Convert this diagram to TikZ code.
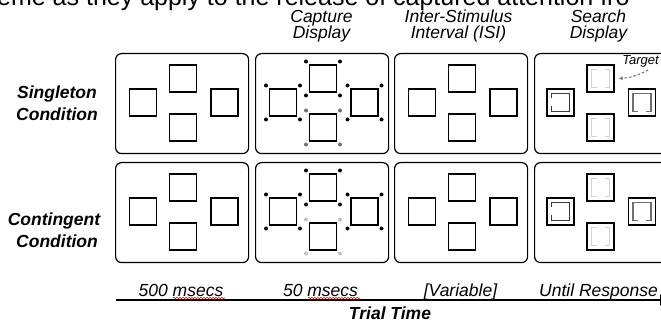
\documentclass[tikz,border=0pt]{standalone}
\usepackage{fontspec}
\setmainfont{Liberation Sans}
\usetikzlibrary{arrows.meta,decorations.pathmorphing}
\definecolor{dotgray}{HTML}{707070}
\definecolor{dotlight}{HTML}{C0C0C0}
\definecolor{indark}{HTML}{3A3A3A}
\definecolor{inmid}{HTML}{6E6E6E}
\definecolor{inlight}{HTML}{D2D2D2}
\tikzset{
  panel/.style={draw, rounded corners=6pt, line width=1.2pt, minimum width=133pt, minimum height=100pt, inner sep=0pt, anchor=north west},
  sq/.style={draw, line width=1.2pt, minimum size=27pt, inner sep=0pt},
  hdr/.style={anchor=base, font=\itshape\fontsize{17.5}{17.5}\selectfont, inner sep=0pt},
  cond/.style={anchor=base, font=\bfseries\itshape\fontsize{17.5}{17.5}\selectfont, inner sep=0pt},
  tlab/.style={anchor=base, font=\itshape\fontsize{17.5}{17.5}\selectfont, inner sep=0pt},
  capdot/.style={circle, fill, inner sep=0pt, minimum size=4pt},
  inner/.style={line width=1.3pt},
  squig/.style={red, line width=0.6pt, decorate, decoration={snake, amplitude=0.7pt, segment length=3pt}}
}
\begin{document}
\begin{tikzpicture}[x=1pt,y=-1pt]
\useasboundingbox (0,0) rectangle (661,320);
\clip (0,0) rectangle (661,320);

% clipped running text at top
\node[anchor=base west, inner sep=0pt, font=\fontsize{25}{25}\selectfont] (toptext) at (-3,6) {eme as they apply to the release of captured attention fro};

% column headers
\node[hdr] (h2a) at (321.5,23) {Capture};
\node[hdr] (h2b) at (321.5,39) {Display};
\node[hdr] (h3a) at (458.5,23) {Inter-Stimulus};
\node[hdr] (h3b) at (458.5,39) {Interval (ISI)};
\node[hdr] (h4a) at (598.5,23) {Search};
\node[hdr] (h4b) at (598.5,39) {Display};

% row labels
\node[cond] (c1a) at (57,99) {Singleton};
\node[cond] (c1b) at (57,121) {Condition};
\node[cond] (c2a) at (54,226) {Contingent};
\node[cond] (c2b) at (57,248) {Condition};

% panels and squares
\foreach \r/\ry in {1/53,2/162} {
  \foreach \c/\cx/\dx in {1/115/0,2/255/0,3/394/0,4/534/-1.5} {
    \node[panel] (p\r\c) at (\cx,\ry) {};
    \node[sq] (s\r\c l) at (\cx+\dx+28,\ry+49.5) {};
    \node[sq] (s\r\c t) at (\cx+\dx+68,\ry+25.5) {};
    \node[sq] (s\r\c b) at (\cx+\dx+68,\ry+74.5) {};
    \node[sq] (s\r\c r) at (\cx+\dx+109.5,\ry+49.5) {};
  }
}

% capture display dots
\foreach \r/\bc in {1/dotgray,2/dotlight} {
  \foreach \s/\col in {l/black,t/black,r/black,b/\bc} {
    \foreach \dx/\dy in {-17/-17,17/-17,-17/17,17/17} {
      \node[capdot, fill=\col] at ([shift={(\dx,\dy)}]s\r2\s.center) {};
    }
  }
}

% search display inner shapes
\foreach \r in {1,2} {
  \draw[inner, indark] ([shift={(-9,-4)}]s\r4l.center) -- ++(0,-5) -- ++(18,0) -- ++(0,18) -- ++(-18,0) -- ++(0,-5);
  \draw[inner, inmid] ([shift={(-4,9)}]s\r4r.center) -- ++(-5,0) -- ++(0,-18) -- ++(18,0) -- ++(0,18) -- ++(-5,0);
  \foreach \s in {t,b} {
    \draw[inner, inlight] ([shift={(-4,-9)}]s\r4\s.center) -- ++(-5,0) -- ++(0,18) -- ++(5,0);
    \draw[inner, inlight] ([shift={(4,-9)}]s\r4\s.center) -- ++(5,0) -- ++(0,18) -- ++(-5,0);
  }
}

% target label and arrow
\node[font=\itshape\fontsize{13}{13}\selectfont, inner sep=0pt, anchor=base east] (target) at (659,65) {Target};
\coordinate (tstart) at (648,70);
\draw[dashed, dash pattern=on 2.5pt off 2pt, gray, line width=1.2pt, -{Latex[length=4pt,width=4.5pt]}] (tstart) to[bend left=12] ([shift={(4,0)}]s14t.east);

% time axis
\node[tlab] (l1) at (181,296) {500 msecs};
\node[tlab] (l2) at (320.5,296) {50 msecs};
\node[tlab] (l3) at (460.5,296) {[Variable]};
\node[tlab] (l4) at (598.5,296) {Until Response};
\draw[squig] (173,298) -- (225,298);
\draw[squig] (308,298) -- (360,298);
\coordinate (axs) at (116,300);
\coordinate (axe) at (672,300);
\draw[line width=2.2pt, -{Latex[length=12pt,width=12pt]}] (axs) -- (axe);
\node[anchor=base, font=\bfseries\itshape\fontsize{17.5}{17.5}\selectfont, inner sep=0pt] (tt) at (390,319) {Trial Time};
\end{tikzpicture}
\end{document}
